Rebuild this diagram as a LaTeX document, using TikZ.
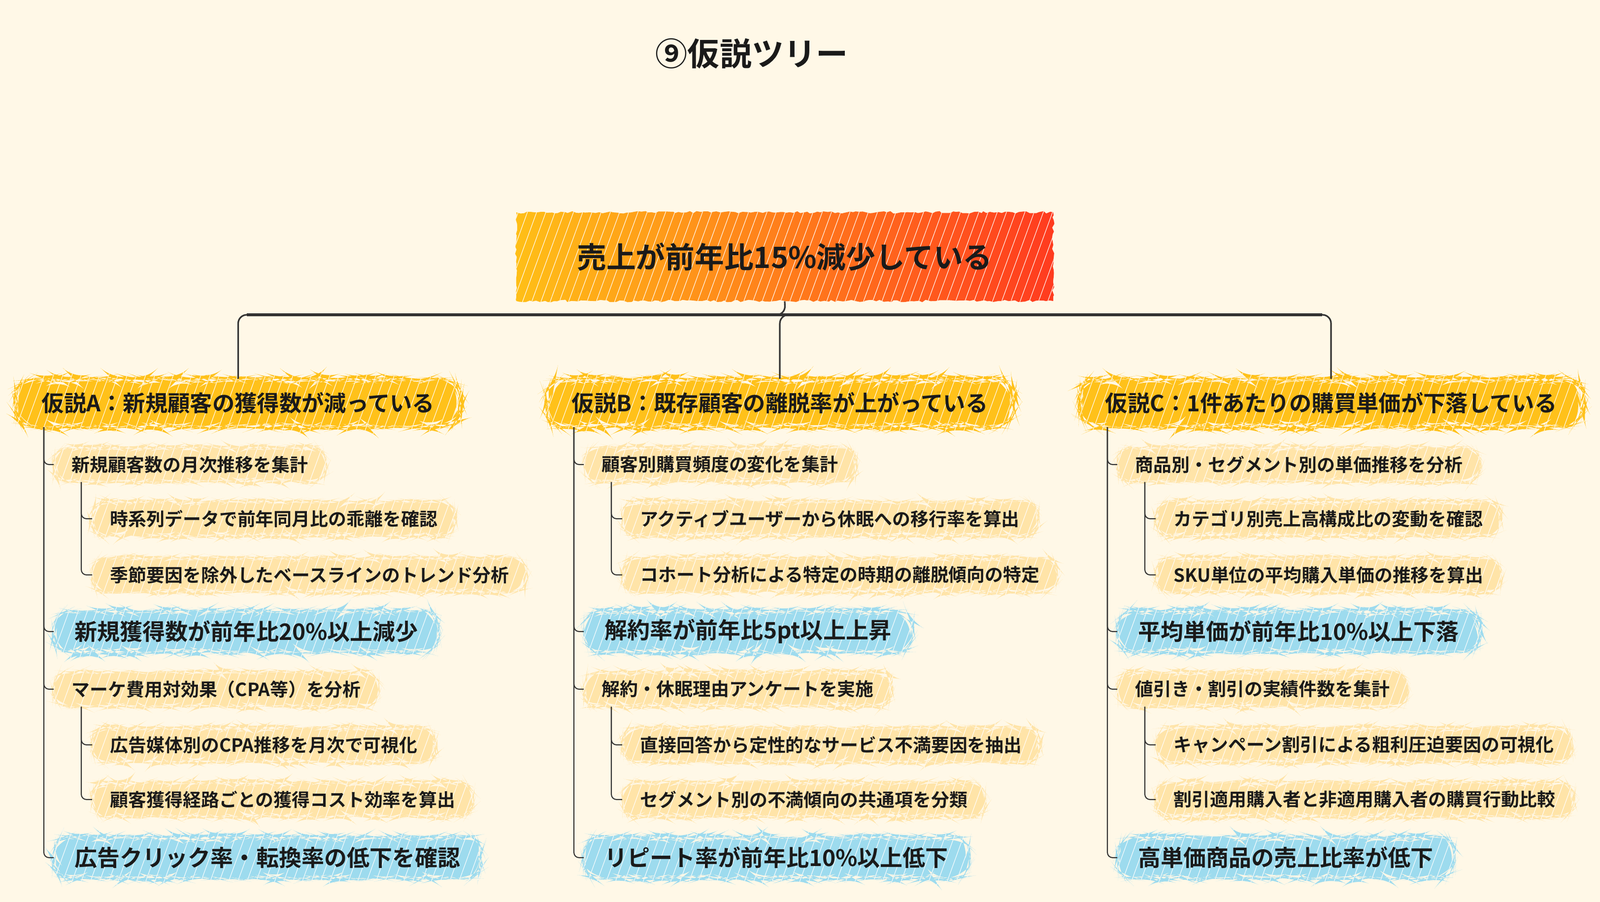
\documentclass[tikz,border=0pt]{standalone}
\usepackage{fontspec}
\setmainfont{Noto Sans CJK JP}[UprightFont={* Bold}]
\usetikzlibrary{calc,decorations.pathmorphing,patterns.meta}

\definecolor{paper}{HTML}{FFF8E7}
\definecolor{ink}{HTML}{1A1A1A}
\definecolor{wire}{HTML}{333333}
\definecolor{rootL}{HTML}{FFBF17}
\definecolor{rootR}{HTML}{FF3B1F}
\definecolor{hypo}{HTML}{FFC11A}
\definecolor{task}{HTML}{FFE4A8}
\definecolor{metric}{HTML}{9DDBEE}

\begin{document}
\begin{tikzpicture}[
    rough/.style={decorate, decoration={random steps, segment length=2pt, amplitude=0.7pt}},
    hatch/.style={postaction={pattern={Lines[angle=70, distance=5pt, line width=0.3pt]},
        pattern color=white, fill opacity=0.25}},
    rootbox/.style={rough, hatch, left color=rootL, right color=rootR,
        minimum width=10.9cm, minimum height=1.8cm, text=ink,
        font=\fontsize{17}{20}\selectfont},
    hypobox/.style={rough, hatch, fill=hypo, rounded corners=10pt, anchor=west,
        minimum height=0.97cm, inner xsep=0.52cm, text=ink,
        font=\fontsize{12.9}{15}\selectfont},
    taskbox/.style={rough, hatch, fill=task, rounded corners=8pt, anchor=west,
        minimum height=0.70cm, inner xsep=0.36cm, text=ink,
        font=\fontsize{10.5}{12}\selectfont},
    metricbox/.style={rough, hatch, fill=metric, rounded corners=9pt, anchor=west,
        minimum height=0.84cm, inner xsep=0.42cm, text=ink,
        font=\fontsize{13.1}{15}\selectfont},
    link/.style={wire, line width=0.9pt, rounded corners=5pt},
    twig/.style={wire, line width=0.6pt, rounded corners=3pt},
]

    % page and title
    \fill[paper] (0,0) rectangle (32.48,-18.31);
    \useasboundingbox (0,0) rectangle (32.48,-18.31);
    \node[text=ink, font=\fontsize{18.5}{22}\selectfont] (title) at (15.26,-1.09) {⑨仮説ツリー};

    % the problem at the top
    \node[rootbox] (root) at (15.93,-5.21) {売上が前年比15\%減少している};
    \coordinate (bar) at (15.94,-6.39);

    % =========================
    % Hypothesis A
    % =========================
    \begin{scope}[shift={(0.32,0)}]
        \node[hypobox] (ha) at (0,-8.18) {仮説A：新規顧客の獲得数が減っている};
        \node[taskbox] (a1) at (0.77,-9.43) {新規顧客数の月次推移を集計};
        \node[taskbox] (a11) at (1.55,-10.53) {時系列データで前年同月比の乖離を確認};
        \node[taskbox] (a12) at (1.55,-11.67) {季節要因を除外したベースラインのトレンド分析};
        \node[metricbox] (a2) at (0.77,-12.82) {新規獲得数が前年比20\%以上減少};
        \node[taskbox] (a3) at (0.77,-13.99) {マーケ費用対効果（CPA等）を分析};
        \node[taskbox] (a31) at (1.55,-15.12) {広告媒体別のCPA推移を月次で可視化};
        \node[taskbox] (a32) at (1.55,-16.23) {顧客獲得経路ごとの獲得コスト効率を算出};
        \node[metricbox] (a4) at (0.77,-17.41) {広告クリック率・転換率の低下を確認};
    \end{scope}
    \coordinate (ta) at ($(ha.south west)+(0.57,0)$);
    \foreach \n in {a1,a2,a3,a4} \draw[twig] (ta) |- (\n.west);
    \foreach \n in {a11,a12} \draw[twig] ($(a1.south west)+(0.56,0)$) |- (\n.west);
    \foreach \n in {a31,a32} \draw[twig] ($(a3.south west)+(0.56,0)$) |- (\n.west);

    % =========================
    % Hypothesis B
    % =========================
    \begin{scope}[shift={(11.08,0)}]
        \node[hypobox] (hb) at (0,-8.18) {仮説B：既存顧客の離脱率が上がっている};
        \node[taskbox] (b1) at (0.77,-9.43) {顧客別購買頻度の変化を集計};
        \node[taskbox] (b11) at (1.55,-10.53) {アクティブユーザーから休眠への移行率を算出};
        \node[taskbox] (b12) at (1.55,-11.67) {コホート分析による特定の時期の離脱傾向の特定};
        \node[metricbox] (b2) at (0.77,-12.82) {解約率が前年比5pt以上上昇};
        \node[taskbox] (b3) at (0.77,-13.99) {解約・休眠理由アンケートを実施};
        \node[taskbox] (b31) at (1.55,-15.12) {直接回答から定性的なサービス不満要因を抽出};
        \node[taskbox] (b32) at (1.55,-16.23) {セグメント別の不満傾向の共通項を分類};
        \node[metricbox] (b4) at (0.77,-17.41) {リピート率が前年比10\%以上低下};
    \end{scope}
    \coordinate (tb) at ($(hb.south west)+(0.57,0)$);
    \foreach \n in {b1,b2,b3,b4} \draw[twig] (tb) |- (\n.west);
    \foreach \n in {b11,b12} \draw[twig] ($(b1.south west)+(0.56,0)$) |- (\n.west);
    \foreach \n in {b31,b32} \draw[twig] ($(b3.south west)+(0.56,0)$) |- (\n.west);

    % =========================
    % Hypothesis C
    % =========================
    \begin{scope}[shift={(21.91,0)}]
        \node[hypobox] (hc) at (0,-8.18) {仮説C：1件あたりの購買単価が下落している};
        \node[taskbox] (c1) at (0.77,-9.43) {商品別・セグメント別の単価推移を分析};
        \node[taskbox] (c11) at (1.55,-10.53) {カテゴリ別売上高構成比の変動を確認};
        \node[taskbox] (c12) at (1.55,-11.67) {SKU単位の平均購入単価の推移を算出};
        \node[metricbox] (c2) at (0.77,-12.82) {平均単価が前年比10\%以上下落};
        \node[taskbox] (c3) at (0.77,-13.99) {値引き・割引の実績件数を集計};
        \node[taskbox] (c31) at (1.55,-15.12) {キャンペーン割引による粗利圧迫要因の可視化};
        \node[taskbox] (c32) at (1.55,-16.23) {割引適用購入者と非適用購入者の購買行動比較};
        \node[metricbox] (c4) at (0.77,-17.41) {高単価商品の売上比率が低下};
    \end{scope}
    \coordinate (tc) at ($(hc.south west)+(0.57,0)$);
    \foreach \n in {c1,c2,c3,c4} \draw[twig] (tc) |- (\n.west);
    \foreach \n in {c11,c12} \draw[twig] ($(c1.south west)+(0.56,0)$) |- (\n.west);
    \foreach \n in {c31,c32} \draw[twig] ($(c3.south west)+(0.56,0)$) |- (\n.west);

    % the problem splits into the three hypotheses
    \draw[link] (root.south) -- (bar) -| (ha.north);
    \draw[link] (bar) -| (hb.north);
    \draw[link] (bar) -| (hc.north);
    \draw[link, line width=1.5pt, shorten <=5pt, shorten >=5pt] (ha.north |- bar) -- (hc.north |- bar);

\end{tikzpicture}
\end{document}
